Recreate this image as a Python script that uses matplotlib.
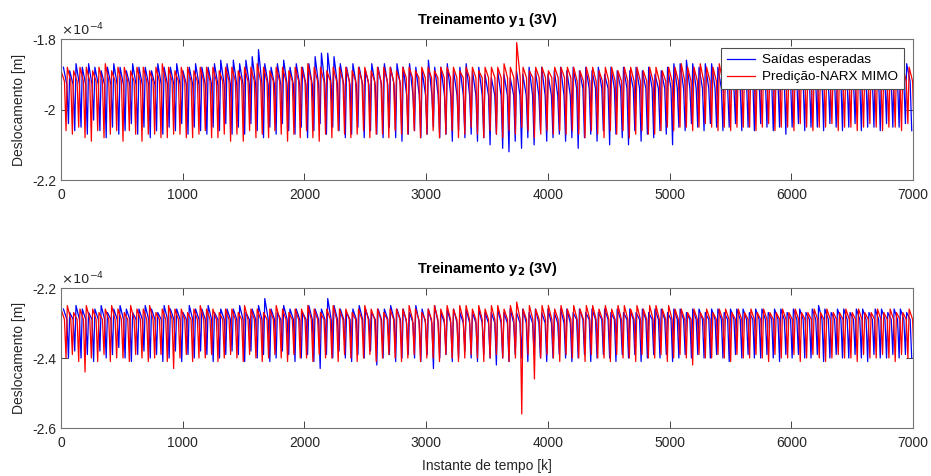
import numpy as np
import matplotlib
matplotlib.use('Agg')
import matplotlib.pyplot as plt

plt.rcParams['font.family'] = ['Liberation Sans', 'DejaVu Sans']
plt.rcParams['axes.unicode_minus'] = False

# values in units of -1e-4 m, one per oscillation cycle
y1_exp_trough = [2.04, 2.06, 2.05, 2.07, 2.03, 2.06, 2.08, 2.05, 2.07, 2.06, 2.04, 2.07, 2.05, 2.08, 2.06, 2.07, 2.05, 2.06, 2.04, 2.07, 2.05, 2.06, 2.07, 2.05, 2.06, 2.04, 2.07,
                 2.05, 2.07, 2.04, 2.06, 2.08, 2.05, 2.07, 2.04, 2.06, 2.07, 2.05, 2.08, 2.06, 2.04, 2.07, 2.05, 2.06, 2.08, 2.07, 2.05, 2.08, 2.06, 2.07, 2.08, 2.05, 2.08, 2.09,
                 2.07, 2.06, 2.08, 2.07, 2.05, 2.08, 2.07, 2.09, 2.06, 2.08, 2.07, 2.09, 2.08, 2.10, 2.07, 2.11, 2.12, 2.09, 2.11, 2.08, 2.10, 2.06, 2.09, 2.08, 2.07, 2.09, 2.08,
                 2.11, 2.08, 2.07, 2.09, 2.06, 2.10, 2.07, 2.08, 2.10, 2.06, 2.09, 2.07, 2.08, 2.06, 2.07, 2.10, 2.05, 2.06, 2.04, 2.05, 2.06, 2.04, 2.05, 2.06, 2.05, 2.04, 2.06,
                 2.05, 2.06, 2.04, 2.05, 2.06, 2.05, 2.07, 2.05, 2.04, 2.06, 2.05, 2.05, 2.06, 2.04, 2.05, 2.06, 2.05, 2.04, 2.06, 2.05, 2.05, 2.06, 2.04, 2.05, 2.05, 2.04, 2.06]
y1_exp_peak = [1.88, 1.89, 1.87, 1.88, 1.87, 1.88, 1.89, 1.88, 1.87, 1.88, 1.89, 1.87, 1.88, 1.88, 1.89, 1.87, 1.88, 1.88, 1.87, 1.89, 1.88, 1.87, 1.88, 1.88, 1.87, 1.86, 1.87,
               1.86, 1.87, 1.86, 1.85, 1.83, 1.87, 1.88, 1.87, 1.86, 1.88, 1.87, 1.88, 1.87, 1.85, 1.84, 1.84, 1.85, 1.87, 1.88, 1.87, 1.88, 1.89, 1.87, 1.88, 1.87, 1.88, 1.87,
               1.88, 1.87, 1.88, 1.89, 1.86, 1.88, 1.88, 1.87, 1.89, 1.88, 1.87, 1.89, 1.88, 1.90, 1.91, 1.89, 1.90, 1.91, 1.89, 1.90, 1.88, 1.89, 1.88, 1.90, 1.89, 1.88, 1.89,
               1.88, 1.89, 1.88, 1.89, 1.88, 1.90, 1.88, 1.89, 1.88, 1.89, 1.88, 1.89, 1.88, 1.90, 1.89, 1.88, 1.87, 1.87, 1.86, 1.87, 1.88, 1.87, 1.87, 1.88, 1.87, 1.86, 1.88,
               1.87, 1.88, 1.87, 1.87, 1.88, 1.87, 1.88, 1.87, 1.87, 1.88, 1.87, 1.88, 1.87, 1.87, 1.88, 1.87, 1.87, 1.88, 1.87, 1.88, 1.87, 1.87, 1.88, 1.87, 1.88, 1.87, 1.87]
y1_exp_mid = [1.93, 1.93, 1.96, 1.94, 1.92]

y1_pred_trough = [2.06, 2.07, 2.05, 2.08, 2.09, 2.06, 2.08, 2.07, 2.06, 2.09, 2.06, 2.07, 2.09, 2.07, 2.07, 2.08, 2.08, 2.07, 2.07, 2.08, 2.08, 2.07, 2.06, 2.08, 2.08, 2.07, 2.09,
                  2.07, 2.09, 2.06, 2.08, 2.07, 2.08, 2.06, 2.07, 2.09, 2.07, 2.08, 2.06, 2.08, 2.09, 2.07, 2.08, 2.06, 2.07, 2.08, 2.07, 2.06, 2.08, 2.07, 2.07, 2.08, 2.06, 2.07,
                  2.07, 2.06, 2.08, 2.07, 2.06, 2.08, 2.07, 2.06, 2.08, 2.07, 2.05, 2.07, 2.08, 2.06, 2.07, 2.08, 2.06, 2.07, 2.05, 2.06, 2.08, 2.07, 2.06, 2.07, 2.06, 2.07, 2.06,
                  2.07, 2.08, 2.06, 2.07, 2.08, 2.06, 2.07, 2.06, 2.08, 2.07, 2.06, 2.07, 2.07, 2.06, 2.05, 2.06, 2.05, 2.05, 2.06, 2.05, 2.04, 2.05, 2.06, 2.05, 2.06, 2.05, 2.05,
                  2.05, 2.06, 2.05, 2.04, 2.06, 2.05, 2.05, 2.06, 2.04, 2.05, 2.06, 2.05, 2.05, 2.04, 2.06, 2.05, 2.05, 2.06, 2.05, 2.04, 2.05, 2.06, 2.05, 2.05, 2.06, 2.04, 2.07]
y1_pred_peak = [1.89, 1.88, 1.89, 1.88, 1.88, 1.89, 1.88, 1.87, 1.89, 1.88, 1.88, 1.89, 1.88, 1.88, 1.89, 1.88, 1.87, 1.88, 1.89, 1.88, 1.88, 1.89, 1.88, 1.88, 1.88, 1.89, 1.88,
                1.88, 1.89, 1.88, 1.88, 1.87, 1.88, 1.89, 1.88, 1.88, 1.89, 1.88, 1.88, 1.87, 1.88, 1.88, 1.89, 1.88, 1.88, 1.88, 1.89, 1.88, 1.88, 1.89, 1.88, 1.88, 1.88, 1.89,
                1.88, 1.88, 1.89, 1.88, 1.88, 1.89, 1.88, 1.88, 1.88, 1.89, 1.88, 1.88, 1.89, 1.88, 1.88, 1.88, 1.87, 1.88, 1.81, 1.88, 1.89, 1.88, 1.88, 1.89, 1.88, 1.88, 1.88,
                1.88, 1.89, 1.88, 1.88, 1.89, 1.88, 1.88, 1.89, 1.88, 1.88, 1.88, 1.89, 1.88, 1.88, 1.89, 1.88, 1.88, 1.87, 1.88, 1.88, 1.87, 1.88, 1.88, 1.87, 1.88, 1.88, 1.88,
                1.88, 1.87, 1.88, 1.88, 1.88, 1.87, 1.88, 1.88, 1.88, 1.87, 1.88, 1.88, 1.88, 1.87, 1.88, 1.88, 1.88, 1.87, 1.88, 1.88, 1.87, 1.88, 1.88, 1.88, 1.87, 1.88, 1.88]
y1_pred_mid = [1.92, 1.92, 1.91, 1.92, 1.92]

y2_exp_trough = [2.40, 2.38, 2.40, 2.39, 2.41, 2.38, 2.40, 2.39, 2.37, 2.40, 2.41, 2.39, 2.38, 2.40, 2.39, 2.41, 2.40, 2.38, 2.41, 2.39, 2.40, 2.38, 2.39, 2.41, 2.40, 2.39, 2.38,
                 2.39, 2.41, 2.38, 2.40, 2.39, 2.41, 2.40, 2.38, 2.39, 2.41, 2.40, 2.39, 2.41, 2.43, 2.39, 2.40, 2.38, 2.40, 2.41, 2.39, 2.40, 2.38, 2.42, 2.40, 2.39, 2.41, 2.40,
                 2.39, 2.40, 2.41, 2.39, 2.43, 2.40, 2.39, 2.41, 2.40, 2.38, 2.40, 2.41, 2.39, 2.40, 2.42, 2.40, 2.41, 2.39, 2.40, 2.41, 2.39, 2.40, 2.41, 2.40, 2.39, 2.40, 2.41,
                 2.40, 2.39, 2.41, 2.40, 2.39, 2.40, 2.41, 2.39, 2.40, 2.39, 2.41, 2.40, 2.39, 2.40, 2.39, 2.41, 2.40, 2.39, 2.40, 2.39, 2.40, 2.40, 2.39, 2.40, 2.41, 2.39, 2.40,
                 2.39, 2.40, 2.40, 2.39, 2.40, 2.41, 2.39, 2.40, 2.39, 2.40, 2.40, 2.39, 2.41, 2.40, 2.39, 2.40, 2.40, 2.39, 2.40, 2.41, 2.39, 2.40, 2.40, 2.39, 2.40, 2.39, 2.40]
y2_exp_peak = [2.26, 2.27, 2.25, 2.26, 2.27, 2.26, 2.25, 2.27, 2.26, 2.25, 2.26, 2.27, 2.26, 2.25, 2.26, 2.27, 2.25, 2.26, 2.26, 2.27, 2.25, 2.26, 2.26, 2.25, 2.27, 2.26, 2.26,
               2.26, 2.25, 2.27, 2.26, 2.25, 2.23, 2.26, 2.27, 2.25, 2.26, 2.26, 2.27, 2.25, 2.26, 2.26, 2.23, 2.25, 2.26, 2.27, 2.26, 2.25, 2.26, 2.27, 2.26, 2.26, 2.25, 2.26,
               2.26, 2.27, 2.25, 2.26, 2.26, 2.25, 2.27, 2.26, 2.26, 2.27, 2.26, 2.27, 2.26, 2.27, 2.27, 2.26, 2.27, 2.26, 2.27, 2.26, 2.27, 2.26, 2.27, 2.26, 2.27, 2.26, 2.26,
               2.27, 2.26, 2.27, 2.26, 2.27, 2.26, 2.27, 2.26, 2.27, 2.26, 2.27, 2.26, 2.27, 2.26, 2.26, 2.27, 2.26, 2.26, 2.27, 2.26, 2.26, 2.27, 2.26, 2.26, 2.27, 2.26, 2.26,
               2.26, 2.27, 2.26, 2.26, 2.27, 2.26, 2.26, 2.27, 2.26, 2.26, 2.27, 2.26, 2.25, 2.26, 2.27, 2.26, 2.26, 2.27, 2.26, 2.26, 2.27, 2.26, 2.26, 2.27, 2.26, 2.26, 2.27]
y2_exp_mid = [2.29, 2.29, 2.30, 2.29, 2.29]

y2_pred_trough = [2.40, 2.39, 2.41, 2.44, 2.40, 2.41, 2.39, 2.41, 2.40, 2.40, 2.41, 2.39, 2.40, 2.41, 2.40, 2.39, 2.41, 2.43, 2.40, 2.39, 2.41, 2.40, 2.40, 2.39, 2.41, 2.40, 2.39,
                  2.40, 2.41, 2.39, 2.40, 2.41, 2.40, 2.39, 2.40, 2.41, 2.39, 2.40, 2.40, 2.41, 2.39, 2.40, 2.40, 2.41, 2.39, 2.40, 2.41, 2.40, 2.39, 2.41, 2.40, 2.39, 2.40, 2.41,
                  2.40, 2.39, 2.41, 2.40, 2.40, 2.41, 2.39, 2.40, 2.41, 2.40, 2.39, 2.40, 2.41, 2.40, 2.39, 2.40, 2.41, 2.40, 2.56, 2.39, 2.46, 2.40, 2.39, 2.40, 2.41, 2.39, 2.40,
                  2.40, 2.41, 2.39, 2.40, 2.40, 2.41, 2.39, 2.40, 2.40, 2.41, 2.39, 2.40, 2.40, 2.39, 2.41, 2.40, 2.39, 2.40, 2.42, 2.39, 2.40, 2.40, 2.39, 2.40, 2.41, 2.39, 2.40,
                  2.40, 2.39, 2.40, 2.41, 2.39, 2.40, 2.40, 2.39, 2.41, 2.40, 2.39, 2.40, 2.41, 2.40, 2.39, 2.40, 2.40, 2.41, 2.39, 2.40, 2.40, 2.39, 2.40, 2.41, 2.39, 2.40, 2.41]
y2_pred_peak = [2.26, 2.25, 2.27, 2.26, 2.25, 2.26, 2.27, 2.26, 2.25, 2.26, 2.27, 2.25, 2.26, 2.26, 2.25, 2.27, 2.26, 2.25, 2.26, 2.26, 2.27, 2.26, 2.25, 2.26, 2.26, 2.27, 2.26,
                2.26, 2.27, 2.25, 2.26, 2.26, 2.27, 2.26, 2.25, 2.26, 2.27, 2.26, 2.26, 2.25, 2.26, 2.27, 2.26, 2.25, 2.26, 2.26, 2.27, 2.26, 2.25, 2.26, 2.26, 2.27, 2.26, 2.26,
                2.26, 2.25, 2.26, 2.27, 2.26, 2.25, 2.26, 2.25, 2.26, 2.25, 2.25, 2.26, 2.25, 2.26, 2.25, 2.25, 2.26, 2.25, 2.24, 2.26, 2.25, 2.26, 2.25, 2.25, 2.26, 2.25, 2.26,
                2.25, 2.26, 2.25, 2.25, 2.26, 2.25, 2.26, 2.25, 2.25, 2.26, 2.25, 2.26, 2.25, 2.25, 2.26, 2.25, 2.26, 2.26, 2.27, 2.26, 2.27, 2.26, 2.27, 2.26, 2.26, 2.27, 2.26,
                2.27, 2.26, 2.27, 2.26, 2.27, 2.27, 2.26, 2.27, 2.26, 2.27, 2.27, 2.26, 2.27, 2.26, 2.27, 2.27, 2.26, 2.27, 2.26, 2.27, 2.27, 2.26, 2.27, 2.26, 2.27, 2.27, 2.26]
y2_pred_mid = [2.29, 2.29, 2.29, 2.29, 2.29]

x_ticks = [0, 1000, 2000, 3000, 4000, 5000, 6000, 7000]
y1_ticks = [-2.2, -2.0, -1.8]
y2_ticks = [-2.6, -2.4, -2.2]
labels = ['Saídas esperadas', 'Predição-NARX MIMO']


def cycle_trace(peak, mid, trough, period, offset):
    # peak -> ripple level -> sharp dip, repeated once per cycle
    n = min(len(peak), len(trough))
    xs, ys = [], []
    for i in range(n):
        t0 = offset + i * period
        m = mid[min(i * len(mid) // n, len(mid) - 1)]
        xs += [t0, t0 + 0.55 * period, t0 + 0.8 * period]
        ys += [-peak[i], -m, -trough[i]]
    return np.array(xs), np.array(ys)


def style_axes(ax, yticks, ylim):
    ax.set_xlim(0, 7000)
    ax.set_ylim(*ylim)
    ax.set_xticks(x_ticks)
    ax.set_yticks(yticks)
    ax.set_yticklabels(['%g' % v for v in yticks])
    ax.tick_params(direction='in', length=5, width=0.6, top=True, right=True,
                   labelsize=10, colors='0.15')
    ax.tick_params(axis='x', pad=6)
    for s in ax.spines.values():
        s.set_color('0.45')
        s.set_linewidth(0.8)
    ax.set_ylabel('Deslocamento [m]', fontsize=10, color='0.15')
    ax.text(0.0, 1.005, r'$\times10^{-4}$', transform=ax.transAxes,
            ha='left', va='bottom', fontsize=9.5, color='0.15')


fig = plt.figure(figsize=(9.31, 4.76), dpi=100)
ax1 = fig.add_axes([0.0655, 0.6218, 0.9152, 0.2962])
ax2 = fig.add_axes([0.0655, 0.1008, 0.9152, 0.2941])

bx, by = cycle_trace(y1_exp_peak, y1_exp_mid, y1_exp_trough, 51.7, 20)
rx, ry = cycle_trace(y1_pred_peak, y1_pred_mid, y1_pred_trough, 52.0, 0)
ax1.plot(bx, by, color='b', lw=0.9, label=labels[0])
ax1.plot(rx, ry, color='r', lw=0.9, label=labels[1])
style_axes(ax1, y1_ticks, (-2.2, -1.8))
ax1.set_title(r'Treinamento y$_\mathbf{1}$ (3V)', fontsize=10.5, fontweight='bold', pad=11)
leg = ax1.legend(loc='upper right', fontsize=9.7, frameon=True, fancybox=False, framealpha=1,
                 borderaxespad=0.65, handlelength=2.1, handletextpad=0.5,
                 borderpad=0.45, labelspacing=0.35)
leg.get_frame().set_edgecolor('0.3')
leg.get_frame().set_linewidth(0.8)

bx, by = cycle_trace(y2_exp_peak, y2_exp_mid, y2_exp_trough, 51.7, 20)
rx, ry = cycle_trace(y2_pred_peak, y2_pred_mid, y2_pred_trough, 52.0, 0)
ax2.plot(bx, by, color='b', lw=0.9)
ax2.plot(rx, ry, color='r', lw=0.9)
style_axes(ax2, y2_ticks, (-2.6, -2.2))
ax2.set_title(r'Treinamento y$_\mathbf{2}$ (3V)', fontsize=10.5, fontweight='bold', pad=11)
ax2.set_xlabel('Instante de tempo [k]', fontsize=10, color='0.15', labelpad=6)

fig.savefig('out.png', dpi=100)
